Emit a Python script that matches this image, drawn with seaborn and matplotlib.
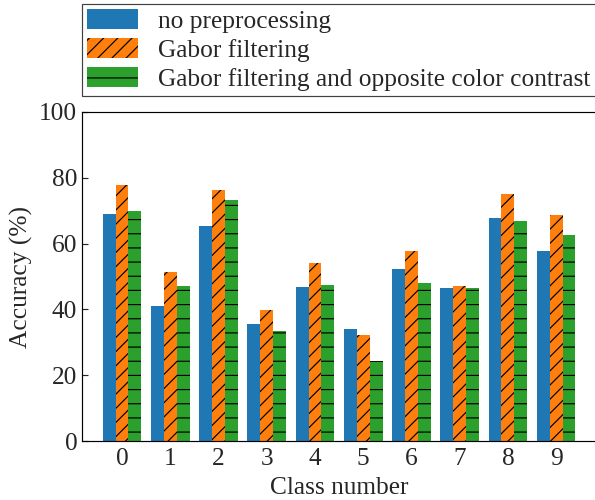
import pandas as pd
import matplotlib.pyplot as plt
import seaborn as sns

# ---------------- DATA ----------------
classes = ["0", "1", "2", "3", "4", "5", "6", "7", "8", "9"]
series_names = ["no preprocessing",
                "Gabor filtering",
                "Gabor filtering and opposite color contrast"]
acc_none = [69.0, 41.0, 65.3, 35.6, 46.8, 34.0, 52.3, 46.5, 67.9, 57.8]
acc_gabor = [77.8, 51.4, 76.3, 39.8, 54.1, 32.2, 57.8, 47.1, 75.1, 68.7]
acc_gabor_occ = [69.8, 47.1, 73.3, 33.4, 47.5, 24.3, 48.0, 46.5, 66.9, 62.6]
hatches = ["", "//", "-"]

df = pd.DataFrame({
    "Class number": classes * 3,
    "Accuracy": acc_none + acc_gabor + acc_gabor_occ,
    "method": [series_names[0]] * 10 + [series_names[1]] * 10 + [series_names[2]] * 10,
})

# ---------------- STYLE ----------------
sns.set_style("ticks")
plt.rcParams["font.family"] = ["Liberation Serif", "DejaVu Serif"]
plt.rcParams["font.size"] = 21.5
plt.rcParams["hatch.linewidth"] = 1.0
plt.rcParams["xtick.direction"] = "in"
plt.rcParams["ytick.direction"] = "in"

fig = plt.figure(figsize=(595 / 85, 500 / 85), dpi=85)
ax = fig.add_axes([82 / 595, 59 / 500, 1 - 82 / 595 + 0.002, 329 / 500])

sns.barplot(data=df, x="Class number", y="Accuracy", hue="method",
            palette=["#1f77b4", "#ff7f0e", "#2ca02c"], saturation=1,
            width=0.8, ax=ax, legend=True)


def style_patch(p, h):
    p.set_hatch(h)
    p.set_edgecolor("black")
    p.set_linewidth(0)
    if hasattr(p, "set_hatchcolor"):
        p.set_hatchcolor("black")


for cont, h in zip(ax.containers, hatches):
    for bar in cont:
        style_patch(bar, h)

ax.set_ylim(0, 100)
ax.set_xlim(-0.83, 9.83)
ax.set_yticks([0, 20, 40, 60, 80, 100])
ax.set_xlabel("Class number", fontsize=21.5, labelpad=6)
ax.set_ylabel("Accuracy (%)", fontsize=21.5, labelpad=5)
ax.tick_params(axis="both", labelsize=21.5, length=5, width=1, pad=4)
ax.tick_params(axis="x", pad=6)
for s in ax.spines.values():
    s.set_linewidth(1)
    s.set_color("black")

ax.get_legend().remove()
handles, labels = ax.get_legend_handles_labels()
for hd, h in zip(handles, hatches):
    style_patch(hd, h)
leg = fig.legend(handles, labels, loc="upper left",
                 bbox_to_anchor=(82 / 595, 1 - 4 / 500),
                 fontsize=21.5, frameon=True, fancybox=False,
                 edgecolor="0.25", framealpha=1,
                 handlelength=2.0, handleheight=0.85, handletextpad=0.8,
                 labelspacing=0.2, borderpad=0.2, borderaxespad=0)
leg.get_frame().set_linewidth(1)

fig.savefig("out.png", dpi=85)
